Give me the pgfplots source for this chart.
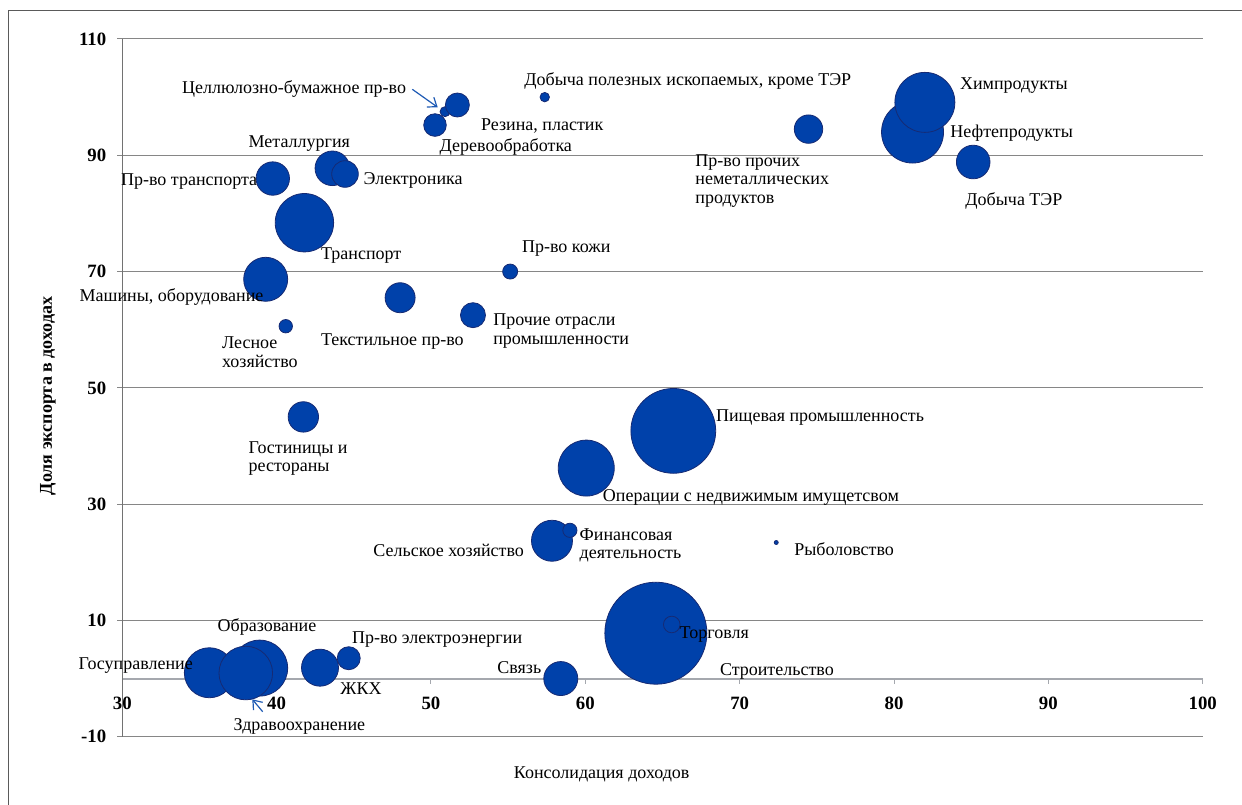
\documentclass[border=0pt]{standalone}
\usepackage{fontspec}
\setmainfont{Liberation Serif}
\usepackage{pgfplots}
\pgfplotsset{compat=1.18}
\usepackage{pgfplotstable}
\usetikzlibrary{arrows.meta}

\definecolor{bub}{RGB}{0,65,170}
\definecolor{bubedge}{RGB}{22,42,115}
\definecolor{gridc}{RGB}{134,134,134}
\definecolor{zeroax}{RGB}{165,168,174}
\definecolor{arrowc}{RGB}{30,90,180}
\definecolor{framec}{RGB}{90,90,90}

% x: consolidation of income, y: export share, r: bubble radius (pt)
\pgfplotstableread{
x y r
64.57 7.8 25.5
65.60 9.3 4.15
65.70 42.6 21.2
81.20 94.0 15.5
82.00 99.1 15.0
41.80 78.4 14.6
60.06 36.2 14.0
35.64 1.0 12.5
38.90 1.8 14.0
38.00 0.95 13.4
39.29 68.67 11.0
57.84 23.7 10.25
59.00 25.5 3.55
42.81 1.87 9.25
43.61 87.76 8.65
44.43 86.78 6.65
58.41 0.0 8.5
85.13 88.84 8.4
39.75 86.0 8.35
48.00 65.5 7.5
41.73 45.0 7.6
74.46 94.5 7.1
52.72 62.5 6.25
50.91 97.5 2.5
51.71 98.65 6.0
50.26 95.2 5.65
44.67 3.5 5.75
55.13 70.0 3.75
40.59 60.6 3.35
57.37 100.0 2.35
72.37 23.4 1.0
}\bubbles

\begin{document}
\begin{tikzpicture}
\useasboundingbox (-61.15pt,-33.65pt) rectangle (559.85pt,368.35pt);
\begin{axis}[
  at={(0,0)}, anchor=south west,
  scale only axis, width=540.2pt, height=348.85pt,
  xmin=30, xmax=100, ymin=-10, ymax=110,
  axis x line=middle, axis y line=left,
  axis line style={-},
  x axis line style={draw=zeroax, line width=1pt},
  y axis line style={draw=gridc!85!black, line width=0.5pt},
  hide obscured x ticks=false,
  xtick={30,40,...,100}, xticklabels={30,40,50,60,70,80,90,100},
  ytick={-10,10,30,50,70,90,110}, yticklabels={-10,10,30,50,70,90,110},
  tick align=outside, major tick length=2.5pt,
  x tick style={draw=zeroax, line width=0.5pt},
  y tick style={draw=gridc, line width=0.5pt},
  ymajorgrids, grid style={draw=gridc, line width=0.5pt},
  ticklabel style={font=\bfseries\fontsize{9.4}{9.4}\selectfont},
  xticklabel style={yshift=-3.2pt},
  yticklabel style={xshift=-2pt},
  clip=false,
]
\addplot[scatter, only marks, mark=*,
  scatter/use mapped color={draw=bubedge, fill=bub},
  visualization depends on={\thisrow{r} \as \rr},
  scatter/@pre marker code/.append style={/tikz/mark size=\rr pt},
  mark options={line width=0.4pt}] table[x=x,y=y] {\bubbles};
\end{axis}
\begin{scope}[x=0.5pt,y=-0.5pt,xshift=-61.15pt,yshift=368.35pt,
  lbl/.style={anchor=base west, inner sep=0pt, font=\fontsize{9}{9}\selectfont}]
\draw[framec, line width=0.6pt] (8.3,900) -- (8.3,10.7) -- (1300,10.7);
\draw[arrowc, line width=0.6pt, -{Straight Barb[length=4pt,width=6pt]}] (412.3,89.3) -- (437.7,107.3);
\draw[arrowc, line width=0.6pt, -{Straight Barb[length=4pt,width=6pt]}] (262.7,711.7) -- (252.3,699.3);
\node[lbl] at (181.7,93.7) {Целлюлозно-бумажное пр-во};
\node[lbl] at (248.3,147.7) {Металлургия};
\node[lbl] at (120.7,186) {Пр-во транспорта};
\node[lbl] at (363.3,185) {Электроника};
\node[lbl] at (320.7,259.3) {Транспорт};
\node[lbl] at (79.3,301.7) {Машины, оборудование};
\node[lbl] at (524,86) {Добыча полезных ископаемых, кроме ТЭР};
\node[lbl] at (480.7,131) {Резина, пластик};
\node[lbl] at (439.3,151.7) {Деревообработка};
\node[lbl] at (695,167) {Пр-во прочих};
\node[lbl] at (695,185) {неметаллических};
\node[lbl] at (695,203.3) {продуктов};
\node[lbl] at (521.7,252.7) {Пр-во кожи};
\node[lbl] at (959.6,89.3) {Химпродукты};
\node[lbl] at (950,137.7) {Нефтепродукты};
\node[lbl] at (965,206) {Добыча ТЭР};
\node[lbl] at (221.7,348.7) {Лесное};
\node[lbl] at (221.7,367.7) {хозяйство};
\node[lbl] at (320.7,345.3) {Текстильное пр-во};
\node[lbl] at (492.9,326) {Прочие отрасли};
\node[lbl] at (492.9,344.3) {промышленности};
\node[lbl] at (248.3,453.3) {Гостиницы и};
\node[lbl] at (248.3,471.3) {рестораны};
\node[lbl] at (715.7,421.3) {Пищевая промышленность};
\node[lbl] at (602.5,501) {Операции с недвижимым имущетсвом};
\node[lbl, anchor=base east] at (524.3,556) {Сельское хозяйство};
\node[lbl] at (579.3,540.3) {Финансовая};
\node[lbl] at (579.3,558.7) {деятельность};
\node[lbl] at (793.9,555.3) {Рыболовство};
\node[lbl] at (217.3,631.7) {Образование};
\node[lbl] at (78.3,669.3) {Госуправление};
\node[lbl] at (351.7,643.7) {Пр-во электроэнергии};
\node[lbl] at (340,694.3) {ЖКХ};
\node[lbl] at (233.3,730) {Здравоохранение};
\node[lbl] at (497,673.3) {Связь};
\node[lbl] at (679.3,638.7) {Торговля};
\node[lbl] at (719.6,675.3) {Строительство};
\node[font=\bfseries\fontsize{9}{9}\selectfont, rotate=90, inner sep=0pt] at (48,396) {Доля экспорта в доходах};
\node[font=\fontsize{9}{9}\selectfont, inner sep=0pt] at (601.7,774.3) {Консолидация доходов};
\end{scope}
\end{tikzpicture}
\end{document}
